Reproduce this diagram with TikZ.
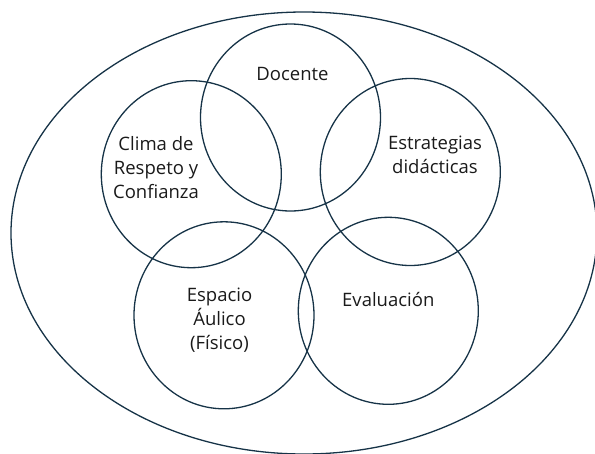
\documentclass[tikz,border=0pt]{standalone}
\usepackage{fontspec}
\setmainfont{Open Sans}
\usetikzlibrary{shapes.geometric}
\definecolor{ringcol}{HTML}{163347}
\definecolor{txtcol}{HTML}{1A1A1A}
\tikzset{
  ring/.style={ellipse, draw=ringcol, line width=1.3pt, inner sep=0pt,
    minimum width=180pt, minimum height=187pt},
  outerring/.style={ellipse, draw=ringcol, line width=1.3pt, inner sep=0pt,
    minimum width=586pt, minimum height=442pt},
  lbl/.style={text=txtcol, inner sep=0pt, align=center,
    font=\fontsize{18.5}{24}\selectfont}
}
\begin{document}
\begin{tikzpicture}[x=1pt,y=-1pt]
\useasboundingbox (0,0) rectangle (595,453);
\node[outerring] (outer) at (304,233) {};
\node[ring] (docente) at (290.5,117.5) {};
\node[ring] (clima) at (191.3,174.2) {};
\node[ring] (estr) at (410.3,172) {};
\node[ring] (espacio) at (224,315.3) {};
\node[ring] (eval) at (388.3,310.8) {};
\node[lbl, anchor=base] (tdocente) at (292.5,80.7) {Docente};
\node[lbl] (tclima) at (156,168) {Clima de\\Respeto y\\Confianza};
\node[lbl] (testr) at (435,155) {Estrategias\\did\'acticas};
\node[lbl] (tespacio) at (219.5,320) {Espacio\\\'Aulico\\(F\'isico)};
\node[lbl, anchor=base] (teval) at (388.3,306.7) {Evaluación};
\end{tikzpicture}
\end{document}
